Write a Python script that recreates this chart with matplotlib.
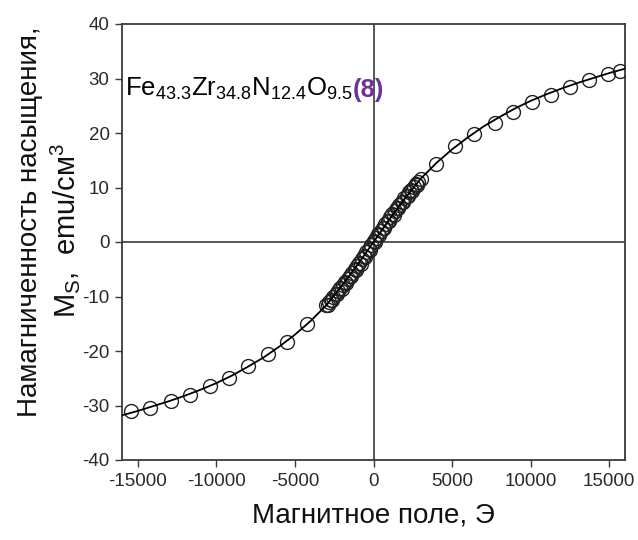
import matplotlib
matplotlib.use("Agg")
import matplotlib.pyplot as plt

plt.rcParams['font.family'] = ['Liberation Sans', 'DejaVu Sans']
plt.rcParams['mathtext.fontset'] = 'custom'
plt.rcParams['mathtext.rm'] = 'Liberation Sans'
plt.rcParams['mathtext.it'] = 'Liberation Sans'
plt.rcParams['mathtext.bf'] = 'Liberation Sans:bold'

# ---- data ----
# dense low-field measurements
dense_H = [3000, 2850, 2700, 2550, 2400, 2250, 2100, 1950, 1800, 1650, 1500, 1350,
           1200, 1050, 900, 750, 600, 450, 300, 150, 0, -150, -300, -450, -600,
           -750, -900, -1050, -1200, -1350, -1500, -1650, -1800, -1950, -2100,
           -2250, -2400, -2550, -2700, -2850, -3000]
dense_M = [11.6, 11.1, 10.6, 10.1, 9.6, 9.1, 8.5, 8.0, 7.4, 6.8, 6.3, 5.7,
           5.1, 4.5, 3.9, 3.3, 2.6, 2.0, 1.4, 0.7, 0.1, -0.6, -1.2, -1.9, -2.5,
           -3.2, -3.8, -4.4, -5.0, -5.6, -6.2, -6.8, -7.4, -7.9, -8.5,
           -9.0, -9.6, -10.1, -10.6, -11.1, -11.6]
dense2_H = [-2925, -2625, -2325, -2025, -1725, -1425, -1125, -825, -525, -225,
            75, 375, 675, 975, 1275, 1575, 1875, 2175, 2475, 2775]
dense2_M = [-11.6, -10.7, -9.6, -8.6, -7.5, -6.3, -5.2, -4.0, -2.8, -1.5,
            0.0, 1.3, 2.6, 3.9, 5.0, 6.2, 7.3, 8.4, 9.4, 10.4]
# high-field measurements
pos_H = [4000, 5200, 6400, 7700, 8900, 10100, 11300, 12500, 13700, 14900, 15700]
pos_M = [14.4, 17.7, 19.8, 21.8, 23.9, 25.6, 27.0, 28.4, 29.7, 30.8, 31.4]
neg_H = [-4200, -5500, -6700, -8000, -9200, -10400, -11700, -12900, -14200, -15400]
neg_M = [-15.0, -18.3, -20.6, -22.7, -25.0, -26.5, -28.0, -29.2, -30.4, -31.0]
# fitted curve
fit_H = [-16000, -15000, -14000, -13000, -12000, -11000, -10000, -9000, -8000, -7000,
         -6000, -5000, -4000, -3000, -2000, -1000, 0, 1000, 2000, 3000, 4000,
         5000, 6000, 7000, 8000, 9000, 10000, 11000, 12000, 13000, 14000, 15000, 16000]
fit_M = [-31.8, -31.0, -30.1, -29.2, -28.2, -27.1, -25.9, -24.5, -22.9, -21.2,
         -19.2, -17.0, -14.5, -11.6, -8.0, -4.1, 0.0, 4.1, 8.0, 11.6, 14.5,
         17.0, 19.2, 21.2, 22.9, 24.5, 25.9, 27.1, 28.2, 29.2, 30.1, 31.0, 31.8]

xticks = [-15000, -10000, -5000, 0, 5000, 10000, 15000]
yticks = [-40, -30, -20, -10, 0, 10, 20, 30, 40]

fig = plt.figure(figsize=(6.38, 5.40), dpi=100)
ax = fig.add_axes([122/638, 1-460/540, 503/638, 436/540])

axis_col = '#3a3a3a'
ax.axhline(0, color=axis_col, lw=1.2, zorder=1)
ax.axvline(0, color=axis_col, lw=1.2, zorder=1)

mk = dict(ls='none', marker='o', ms=10, mfc='none', mec='#222222', mew=1.0, zorder=3)
ax.plot(dense_H, dense_M, **mk)
ax.plot(dense2_H, dense2_M, **mk)
ax.plot(pos_H, pos_M, **mk)
ax.plot(neg_H, neg_M, **mk)
ax.plot(fit_H, fit_M, color='black', lw=1.3, zorder=4)

ax.set_xlim(-16000, 16000)
ax.set_ylim(-40, 40)
ax.set_xticks(xticks)
ax.set_yticks(yticks)
ax.set_xticklabels([str(v) for v in xticks])
ax.set_yticklabels([str(v) for v in yticks])
ax.tick_params(direction='out', length=5, width=1.0, color=axis_col,
               labelsize=13.5, labelcolor='#2a2a2a', pad=4)
for s in ax.spines.values():
    s.set_color(axis_col)
    s.set_linewidth(1.3)

t = ax.text(0.006, 0.835, r"Fe$_{43.3}$Zr$_{34.8}$N$_{12.4}$O$_{9.5}$",
            transform=ax.transAxes, fontsize=18.5, color='black', va='baseline', ha='left')
ax.annotate("(8)", xy=(1, 0), xycoords=t, fontsize=18.5, fontweight='bold',
            color='#7030A0', va='bottom', ha='left')

fig.text(0.5 * (122 + 625) / 638, 1 - 515/540, "Магнитное поле, Э",
         ha='center', va='center', fontsize=20, color='#111111')
fig.text(30/638, 1 - 222/540, "Намагниченность насыщения,", rotation=90,
         ha='center', va='center', fontsize=20, color='#111111')
fig.text(65/638, 1 - 230/540, r"M$_{\mathrm{S}}$,  emu/см$^{3}$", rotation=90,
         ha='center', va='center', fontsize=21, color='#111111')

fig.savefig("out.png", dpi=100)
